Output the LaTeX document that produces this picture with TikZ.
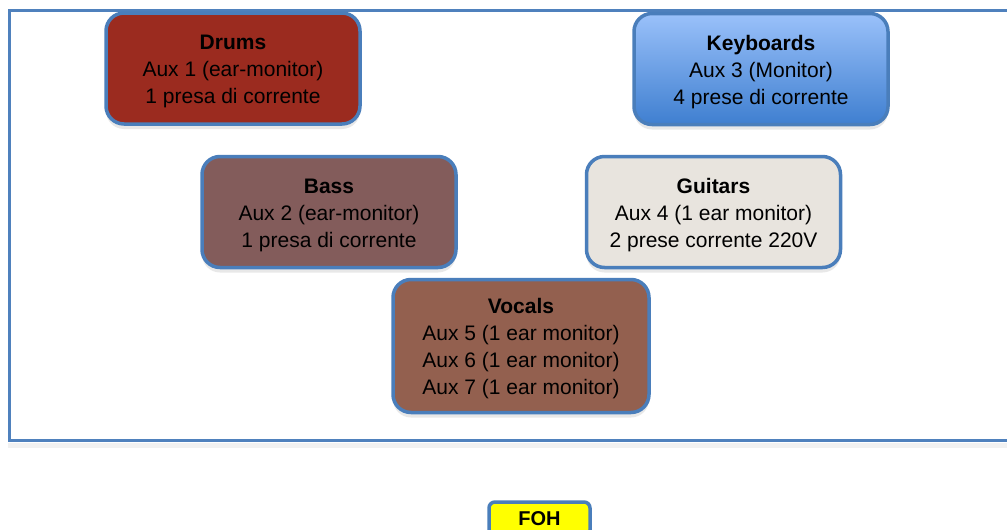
\documentclass[tikz,border=0pt]{standalone}
\usepackage{fontspec}
\setmainfont{Liberation Sans}
\usetikzlibrary{shadows}
\definecolor{stageblue}{RGB}{79,129,189}
\definecolor{boxblue}{RGB}{74,126,187}
\definecolor{drumsred}{RGB}{155,43,31}
\definecolor{bassbrown}{RGB}{131,92,91}
\definecolor{guitarbeige}{RGB}{232,228,222}
\definecolor{vocalbrown}{RGB}{147,96,79}
\definecolor{keytop}{RGB}{154,193,250}
\definecolor{keybot}{RGB}{63,127,208}
\definecolor{fohyellow}{RGB}{255,255,0}
\newcommand{\toprule}{\rule{0pt}{21pt}}
\tikzset{
  band/.style={draw=boxblue, line width=3.5pt, rounded corners=18pt,
    minimum width=254pt, minimum height=111pt, align=center,
    font=\fontsize{21}{27}\selectfont, text=black, inner sep=0pt,
    drop shadow={opacity=0.18, shadow xshift=0pt, shadow yshift=-5pt}},
  foh/.style={draw=boxblue, line width=3.5pt, rounded corners=6pt,
    minimum width=101pt, minimum height=34pt, inner sep=0pt,
    font=\fontsize{20}{24}\selectfont\bfseries, fill=fohyellow,
    drop shadow={opacity=0.18, shadow xshift=0pt, shadow yshift=-4pt}}
}
\begin{document}
\begin{tikzpicture}[x=1pt,y=-1pt]
\useasboundingbox (0,0) rectangle (1007,530);
\fill[white] (0,0) rectangle (1007,530);
% stage
\fill[black!10, opacity=0.5] (8,443) rectangle (1012,448);
\draw[stageblue, line width=3pt] (1012,10) -- (9.5,10) -- (9.5,440) -- (1012,440);
% bands
\node[band, fill=drumsred] (drums) at (233,68.5) {\toprule\textbf{Drums}\\Aux 1 (ear-monitor)\\1 presa di corrente};
\node[band, top color=keytop, bottom color=keybot] (keys) at (761,69) {\toprule\textbf{Keyboards}\\Aux 3 (Monitor)\\4 prese di corrente};
\node[band, fill=bassbrown] (bass) at (329,212) {\toprule\textbf{Bass}\\Aux 2 (ear-monitor)\\1 presa di corrente};
\node[band, fill=guitarbeige] (guitars) at (713.5,212) {\toprule\textbf{Guitars}\\Aux 4 (1 ear monitor)\\2 prese corrente 220V};
\node[band, fill=vocalbrown, minimum width=256pt, minimum height=133pt] (vocals) at (521,346) {\toprule\textbf{Vocals}\\Aux 5 (1 ear monitor)\\Aux 6 (1 ear monitor)\\Aux 7 (1 ear monitor)};
\node[foh] (fohbox) at (539.5,519) {FOH};
\end{tikzpicture}
\end{document}
